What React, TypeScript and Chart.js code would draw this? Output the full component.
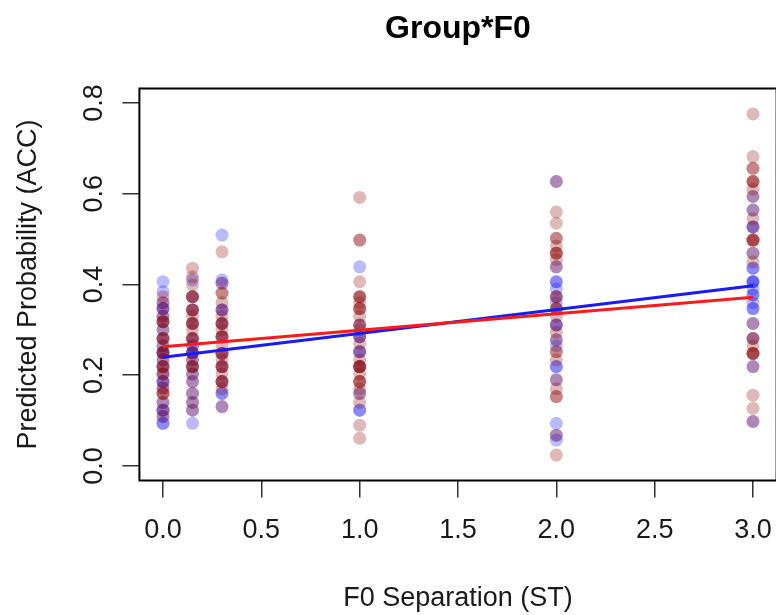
import React, { useEffect, useRef } from "react";
import { Chart, registerables } from "chart.js";

Chart.register(...registerables);

const chartTitle = "Group*F0";
const xAxisTitle = "F0 Separation (ST)";
const yAxisTitle = "Predicted Probability (ACC)";

const xLevels = [0, 0.15, 0.3, 1, 2, 3];

const blueAt0 = [0.406, 0.384, 0.36, 0.347, 0.347, 0.33, 0.318, 0.3, 0.281, 0.265, 0.25, 0.25, 0.234, 0.219, 0.203, 0.186, 0.186, 0.172, 0.14, 0.123, 0.123, 0.109, 0.094, 0.094];
const redAt0 = [0.373, 0.36, 0.347, 0.33, 0.318, 0.318, 0.318, 0.3, 0.281, 0.281, 0.281, 0.265, 0.25, 0.25, 0.25, 0.234, 0.219, 0.219, 0.219, 0.203, 0.203, 0.186, 0.172, 0.16, 0.16, 0.16, 0.14, 0.123, 0.109];
const blueAt015 = [0.41, 0.373, 0.344, 0.314, 0.281, 0.265, 0.25, 0.25, 0.25, 0.234, 0.219, 0.203, 0.186, 0.16, 0.14, 0.123, 0.094];
const redAt015 = [0.436, 0.417, 0.399, 0.373, 0.373, 0.373, 0.344, 0.344, 0.344, 0.33, 0.314, 0.314, 0.314, 0.3, 0.281, 0.281, 0.281, 0.265, 0.248, 0.234, 0.219, 0.219, 0.219, 0.203, 0.186, 0.16, 0.14, 0.123];
const blueAt03 = [0.509, 0.41, 0.403, 0.344, 0.344, 0.314, 0.285, 0.248, 0.219, 0.186, 0.16, 0.16, 0.131];
const redAt03 = [0.472, 0.403, 0.381, 0.381, 0.36, 0.344, 0.33, 0.314, 0.314, 0.314, 0.3, 0.285, 0.285, 0.285, 0.265, 0.248, 0.248, 0.248, 0.234, 0.219, 0.219, 0.219, 0.203, 0.186, 0.186, 0.186, 0.17, 0.131];
const blueAt1 = [0.439, 0.311, 0.285, 0.285, 0.252, 0.252, 0.219, 0.16, 0.123, 0.123];
const redAt1 = [0.592, 0.498, 0.498, 0.406, 0.373, 0.373, 0.373, 0.36, 0.347, 0.347, 0.347, 0.33, 0.311, 0.311, 0.3, 0.285, 0.27, 0.252, 0.234, 0.219, 0.219, 0.219, 0.219, 0.203, 0.186, 0.186, 0.186, 0.17, 0.16, 0.14, 0.09, 0.061];
const blueAt2 = [0.627, 0.439, 0.406, 0.406, 0.39, 0.373, 0.36, 0.311, 0.311, 0.278, 0.265, 0.219, 0.219, 0.19, 0.094, 0.068, 0.057];
const redAt2 = [0.627, 0.56, 0.535, 0.502, 0.502, 0.485, 0.469, 0.469, 0.469, 0.455, 0.439, 0.373, 0.373, 0.347, 0.347, 0.347, 0.33, 0.311, 0.295, 0.278, 0.252, 0.252, 0.234, 0.19, 0.17, 0.153, 0.153, 0.068, 0.024];
const blueAt3 = [0.594, 0.564, 0.527, 0.527, 0.469, 0.436, 0.436, 0.406, 0.406, 0.406, 0.39, 0.377, 0.377, 0.36, 0.347, 0.347, 0.314, 0.281, 0.219, 0.098];
const redAt3 = [0.776, 0.682, 0.656, 0.656, 0.627, 0.627, 0.627, 0.61, 0.594, 0.564, 0.545, 0.527, 0.498, 0.498, 0.498, 0.498, 0.469, 0.45, 0.314, 0.281, 0.281, 0.265, 0.248, 0.248, 0.248, 0.248, 0.219, 0.156, 0.127, 0.098];

const blueValues = [blueAt0, blueAt015, blueAt03, blueAt1, blueAt2, blueAt3];
const redValues = [redAt0, redAt015, redAt03, redAt1, redAt2, redAt3];

const fitX = [0, 3];
const blueFit = [0.2395, 0.397];
const redFit = [0.263, 0.372];

const xRange = [0, 3];
const yRange = [0, 0.8];

const FONT = "'Liberation Sans', Arial, Helvetica, sans-serif";

function toPoints(groups: number[][]) {
  const pts: { x: number; y: number }[] = [];
  groups.forEach((vals, i) => vals.forEach((v) => pts.push({ x: xLevels[i], y: v })));
  return pts;
}

const rStylePlugin = {
  id: "rStyle",
  afterDraw(chart: any) {
    const { ctx, chartArea } = chart;
    const yScale = chart.scales.y;
    ctx.save();
    ctx.strokeStyle = "#000";
    ctx.lineWidth = 2;
    ctx.strokeRect(chartArea.left, chartArea.top, chartArea.right - chartArea.left, chartArea.bottom - chartArea.top);
    ctx.fillStyle = "#000";
    ctx.font = `bold 32px ${FONT}`;
    ctx.textAlign = "center";
    ctx.textBaseline = "alphabetic";
    ctx.fillText(chartTitle, (chartArea.left + chartArea.right) / 2, 38);
    ctx.font = `27px ${FONT}`;
    ctx.fillStyle = "#1a1a1a";
    yScale.ticks.forEach((t: any) => {
      const py = yScale.getPixelForValue(t.value);
      ctx.save();
      ctx.translate(101.5, py);
      ctx.rotate(-Math.PI / 2);
      ctx.textAlign = "center";
      ctx.textBaseline = "alphabetic";
      ctx.fillText(t.value.toFixed(1), 0, 0);
      ctx.restore();
    });
    ctx.restore();
  },
};

export default function App() {
  const ref = useRef<HTMLCanvasElement | null>(null);
  useEffect(() => {
    if (!ref.current) return;
    const xPad = (xRange[1] - xRange[0]) * 0.04;
    const yPad = (yRange[1] - yRange[0]) * 0.04;
    const chart = new Chart(ref.current, {
      type: "scatter",
      data: {
        datasets: [
          {
            label: "red fit",
            data: fitX.map((x, i) => ({ x, y: redFit[i] })),
            showLine: true,
            borderColor: "#ff1a1a",
            borderWidth: 3,
            pointRadius: 0,
            order: 0,
          },
          {
            label: "blue fit",
            data: fitX.map((x, i) => ({ x, y: blueFit[i] })),
            showLine: true,
            borderColor: "#1a1aff",
            borderWidth: 3,
            pointRadius: 0,
            order: 0,
          },
          {
            label: "red",
            data: toPoints(redValues),
            backgroundColor: "rgba(139,0,0,0.28)",
            borderWidth: 0,
            pointRadius: 6.5,
            order: 1,
          },
          {
            label: "blue",
            data: toPoints(blueValues),
            backgroundColor: "rgba(0,0,255,0.27)",
            borderWidth: 0,
            pointRadius: 6.5,
            order: 2,
          },
        ],
      },
      plugins: [rStylePlugin],
      options: {
        animation: false,
        responsive: false,
        devicePixelRatio: 1,
        layout: { padding: { top: 88.5, right: 23.4, left: 0, bottom: 0 } },
        plugins: { legend: { display: false }, tooltip: { enabled: false }, title: { display: false } },
        scales: {
          x: {
            type: "linear",
            min: xRange[0] - xPad,
            max: xRange[1] + xPad,
            border: { display: false },
            grid: { drawOnChartArea: false, drawTicks: true, tickLength: 17, color: "#333", lineWidth: 1.5 },
            ticks: {
              stepSize: 0.5,
              includeBounds: false,
              autoSkip: false,
              maxRotation: 0,
              padding: 17,
              color: "#1a1a1a",
              font: { size: 27, family: FONT },
              callback: (v: any) => Number(v).toFixed(1),
            },
            title: { display: true, text: xAxisTitle, color: "#1a1a1a", font: { size: 27, family: FONT }, padding: { top: 0, bottom: 0 } },
            afterFit: (s: any) => {
              s.height = 134.5;
            },
          },
          y: {
            type: "linear",
            min: yRange[0] - yPad,
            max: yRange[1] + yPad,
            border: { display: false },
            grid: { drawOnChartArea: false, drawTicks: true, tickLength: 17, color: "#333", lineWidth: 1.5 },
            ticks: { stepSize: 0.2, includeBounds: false, display: false },
            title: { display: true, text: yAxisTitle, color: "#1a1a1a", font: { size: 27, family: FONT }, padding: { top: 12, bottom: 0 } },
            afterFit: (s: any) => {
              s.width = 139.4;
            },
          },
        },
      },
    });
    return () => chart.destroy();
  }, []);
  return (
    <div style={{ position: "fixed", left: 0, top: 0, width: 776, height: 615, overflow: "hidden", background: "#fff" }}>
      <canvas ref={ref} width={800} height={615} style={{ width: 800, height: 615, display: "block" }} />
    </div>
  );
}
